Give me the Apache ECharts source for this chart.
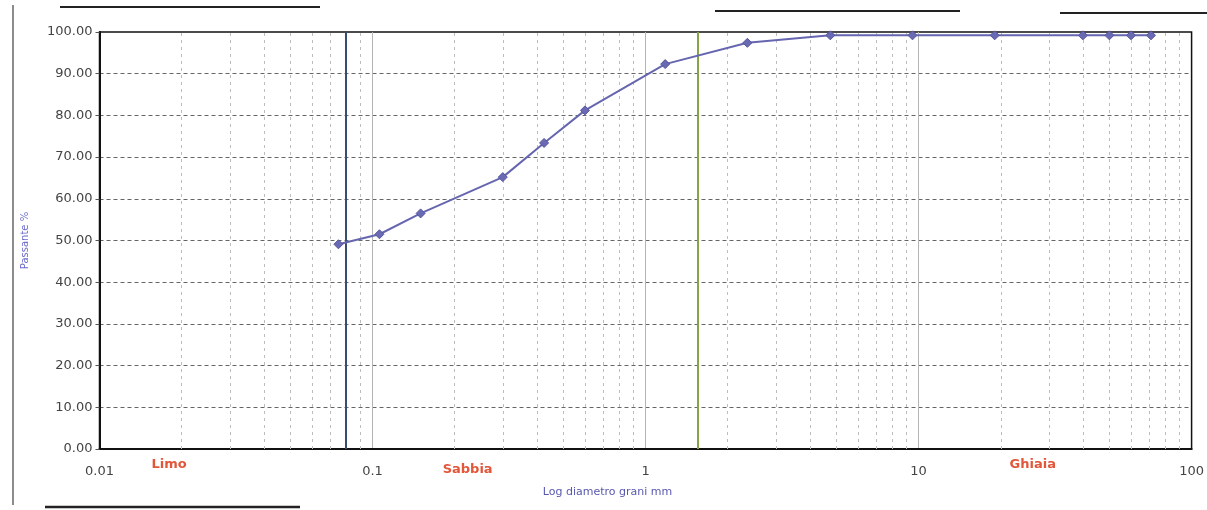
<!DOCTYPE html>
<html>
<head>
<meta charset="utf-8">
<script src="https://cdn.jsdelivr.net/npm/echarts@6/dist/echarts.min.js"></script>
<style>
  html, body { margin: 0; padding: 0; background: #fff; }
  #chart { width: 1207px; height: 510px; }
</style>
</head>
<body>
<div id="chart"></div>
<script>
// Grain size curve (sieve analysis)
const sieveSizes = [0.075, 0.106, 0.15, 0.3, 0.425, 0.6, 1.18, 2.36, 4.75, 9.5, 19, 40, 50, 60, 71];
const passingPct = [49.1, 51.5, 56.5, 65.2, 73.4, 81.2, 92.3, 97.4, 99.2, 99.2, 99.2, 99.2, 99.2, 99.2, 99.2];

// class boundaries drawn as vertical lines
const boundaryValues = [0.082, 1.55];
const boundaryColors = ['#3a4d6e', '#86a443'];

// zone names under the axis
const zoneNames = ['Limo', 'Sabbia', 'Ghiaia'];
const zoneCenters = [0.018, 0.223, 26.2];

// minor log grid: 2..9 in every decade
const decades = [0.01, 0.1, 1, 10];
const minorSteps = [2, 3, 4, 5, 6, 7, 8, 9];

const yTicks = [0, 10, 20, 30, 40, 50, 60, 70, 80, 90, 100];

const FONT = '"DejaVu Sans", Arial, sans-serif';

const chart = echarts.init(document.getElementById('chart'));

const minorLines = [];
decades.forEach(d => minorSteps.forEach(m => minorLines.push({xAxis: +(d * m).toPrecision(3)})));

const option = {
  backgroundColor: '#fff',
  animation: false,
  grid: {
    left: 99.5,
    right: 12,
    top: 32,
    bottom: 61,
    show: true,
    borderColor: '#111',
    borderWidth: 1.5
  },
  xAxis: {
    type: 'log',
    logBase: 10,
    min: 0.01,
    max: 100,
    splitNumber: 4,
    name: 'Log diametro grani mm',
    nameLocation: 'middle',
    nameGap: 38,
    nameTextStyle: {
      color: '#5858b0',
      fontSize: 11,
      fontFamily: FONT,
      padding: [0, 76, 0, 0]
    },
    axisLine: {lineStyle: {color: '#111', width: 2}},
    axisTick: {show: false},
    axisLabel: {
      color: '#444',
      fontSize: 13,
      fontFamily: FONT,
      margin: 16,
      formatter: v => String(+(+v).toPrecision(3))
    },
    splitLine: {show: true, showMaxLine: false, lineStyle: {color: '#b4b4b4', width: 1}}
  },
  yAxis: {
    type: 'value',
    min: 0,
    max: 100,
    interval: 10,
    name: 'Passante %',
    nameLocation: 'middle',
    nameGap: 69,
    nameTextStyle: {color: '#6a6acb', fontSize: 10, fontFamily: FONT},
    axisLine: {show: true, lineStyle: {color: '#111', width: 2}},
    axisTick: {show: true, length: 4, lineStyle: {color: '#555'}},
    axisLabel: {
      color: '#444',
      fontSize: 13,
      fontFamily: FONT,
      margin: 7,
      formatter: v => yTicks.includes(v) ? v.toFixed(2) : ''
    },
    splitLine: {show: true, showMaxLine: false, lineStyle: {color: '#666', width: 1, type: [4, 3]}}
  },
  series: [
    {
      // minor vertical grid lines
      type: 'line',
      data: [],
      silent: true,
      z: 1,
      markLine: {
        silent: true,
        symbol: 'none',
        label: {show: false},
        lineStyle: {color: '#bdbdbd', width: 1, type: [3, 4]},
        data: minorLines
      }
    },
    {
      // class boundary lines
      type: 'line',
      data: [],
      silent: true,
      z: 2,
      markLine: {
        silent: true,
        symbol: 'none',
        label: {show: false},
        data: boundaryValues.map((v, i) => ({
          xAxis: v,
          lineStyle: {color: boundaryColors[i], width: 2, type: 'solid'}
        }))
      }
    },
    {
      type: 'line',
      data: sieveSizes.map((s, i) => [s, passingPct[i]]),
      z: 5,
      symbol: 'diamond',
      symbolSize: 9,
      lineStyle: {color: '#6666b0', width: 2},
      itemStyle: {color: '#6a6ab4', borderColor: '#55559c', borderWidth: 1}
    }
  ]
};

chart.setOption(option);

// zone labels placed through the x axis scale, plus the scanned page frame
const graphics = zoneNames.map((n, i) => ({
  type: 'text',
  x: chart.convertToPixel({xAxisIndex: 0}, zoneCenters[i]),
  y: i === 1 ? 470 : 465,
  style: {
    text: n,
    fill: '#e2563a',
    font: 'bold 13px ' + FONT,
    align: 'center',
    verticalAlign: 'middle'
  }
}));

graphics.push(
  {type: 'line', shape: {x1: 13, y1: 5, x2: 13, y2: 505}, style: {stroke: '#666', lineWidth: 1.5}},
  {type: 'line', shape: {x1: 60, y1: 7, x2: 320, y2: 7}, style: {stroke: '#222', lineWidth: 2}},
  {type: 'line', shape: {x1: 715, y1: 11, x2: 960, y2: 11}, style: {stroke: '#222', lineWidth: 2}},
  {type: 'line', shape: {x1: 1060, y1: 13, x2: 1207, y2: 13}, style: {stroke: '#222', lineWidth: 2}},
  {type: 'line', shape: {x1: 45, y1: 507, x2: 300, y2: 507}, style: {stroke: '#222', lineWidth: 2.5}}
);

chart.setOption({graphic: graphics});

window.addEventListener('resize', function () {
  chart.resize();
});
</script>
</body>
</html>
